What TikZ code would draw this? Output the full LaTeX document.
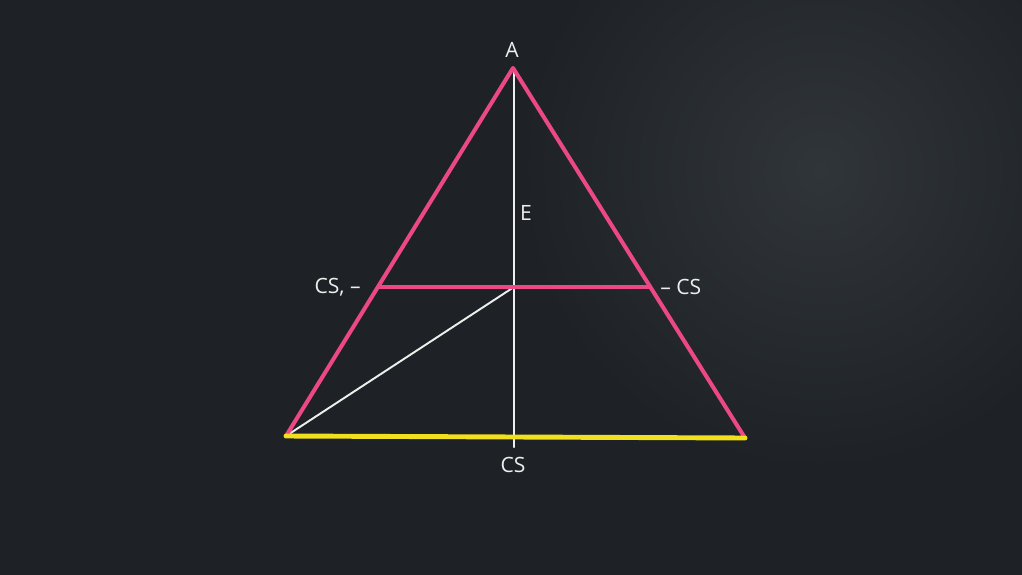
\documentclass[tikz,border=0pt]{standalone}
\usepackage{fontspec}
\setmainfont{Open Sans}
\definecolor{board}{RGB}{30,34,38}
\definecolor{boardlight}{RGB}{48,53,58}
\definecolor{chalkpink}{RGB}{236,72,132}
\definecolor{chalkyellow}{RGB}{240,224,30}
\definecolor{chalkwhite}{RGB}{238,238,236}
\begin{document}
\begin{tikzpicture}[x=0.02cm,y=-0.02cm,
  pinkline/.style={draw=chalkpink,line width=2.3pt,line cap=round,line join=round},
  yellowline/.style={draw=chalkyellow,line width=2.8pt,line cap=round},
  whiteline/.style={draw=chalkwhite,line width=1.4pt,line cap=round},
  lbl/.style={text=chalkwhite,font=\fontsize{12}{14}\selectfont,inner sep=0pt}]
\useasboundingbox (0,0) rectangle (1022,575);
\begin{scope}
\clip (0,0) rectangle (1022,575);
\fill[board] (0,0) rectangle (1022,575);
\shade[inner color=boardlight,outer color=board] (820,170) circle [radius=6cm];
\end{scope}
% vertices
\coordinate (A) at (513,68);
\coordinate (B) at (286,436);
\coordinate (C) at (745,438);
\coordinate (ML) at (379,287);
\coordinate (MR) at (650,287);
\coordinate (O) at (514,287);
\coordinate (Vtop) at (514,72);
\coordinate (Vbot) at (514,447);
% lines
\draw[whiteline] (Vtop) -- (Vbot);
\draw[whiteline,line width=1.1pt] (B) -- (O);
\draw[pinkline] (ML) -- (MR);
\draw[pinkline] (B) -- (A) -- (C);
\draw[yellowline] (B) -- (C);
% labels
\node[lbl] (lA) at (512,50) {A};
\node[lbl] (lE) at (526,213) {E};
\node[lbl,anchor=east] (lL) at (361,287) {CS, –};
\node[lbl,anchor=west] (lR) at (660,287) {– CS};
\node[lbl] (lB) at (513,465) {CS};
\end{tikzpicture}
\end{document}
